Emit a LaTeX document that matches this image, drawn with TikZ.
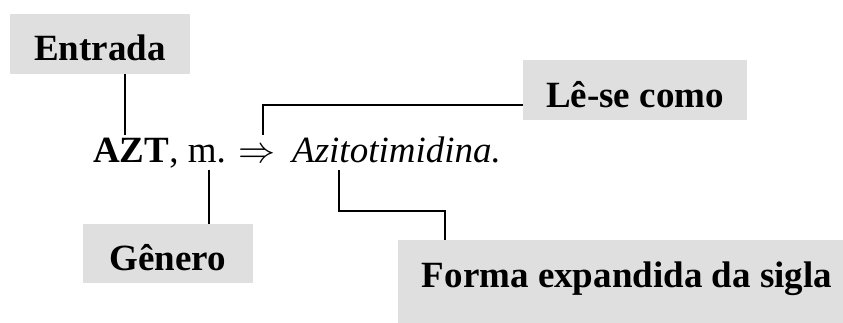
\documentclass[tikz,border=0pt]{standalone}
\usepackage{fontspec}
\setmainfont{Liberation Serif}
\definecolor{boxgray}{HTML}{DFDFDF}
\tikzset{
  labbox/.style={fill=boxgray, inner sep=0pt, font=\bfseries\fontsize{37}{40}\selectfont},
  maintxt/.style={inner sep=0pt, anchor=base west, text height=27pt, text depth=8pt, font=\fontsize{37}{40}\selectfont},
  conn/.style={draw=black, line width=2.3pt}
}
\begin{document}
\begin{tikzpicture}[x=1pt,y=-1pt]
\useasboundingbox (0,0) rectangle (843,322);
% boxes
\node[labbox, minimum width=180pt, minimum height=60pt, text height=36pt, text depth=4pt] (entrada) at (100,44) {Entrada};
\node[labbox, minimum width=170pt, minimum height=59pt, text height=36pt, text depth=3pt] (genero) at (168,253.5) {Gênero};
\node[labbox, minimum width=224pt, minimum height=60pt, text height=36pt, text depth=2pt] (lese) at (635,90) {Lê-se como};
\node[labbox, minimum width=458pt, minimum height=94pt, text height=20pt, text depth=20pt] (forma) at (627,287) {Forma expandida da sigla};
% main line
\node[maintxt] (azt) at (93,162) {\textbf{AZT}, m.};
\node[maintxt] (arr) at (238,162) {\fontsize{10}{12}\selectfont\scalebox{3.7}{$\Rightarrow$}};
\node[maintxt] (azit) at (292,162) {\itshape Azitotimidina.};
% connectors
\draw[conn] ([xshift=25pt]entrada.south) -- ([xshift=25pt]entrada.south |- azt.north);
\draw[conn] ([xshift=41pt]genero.north) -- ([xshift=41pt]genero.north |- azt.south);
\draw[conn] ([xshift=6pt]arr.north) |- ([yshift=-15pt]lese.west);
\draw[conn] ([xshift=47pt]azit.south west) -- ++(0,41) -| ([xshift=-182pt]forma.north);
\end{tikzpicture}
\end{document}
